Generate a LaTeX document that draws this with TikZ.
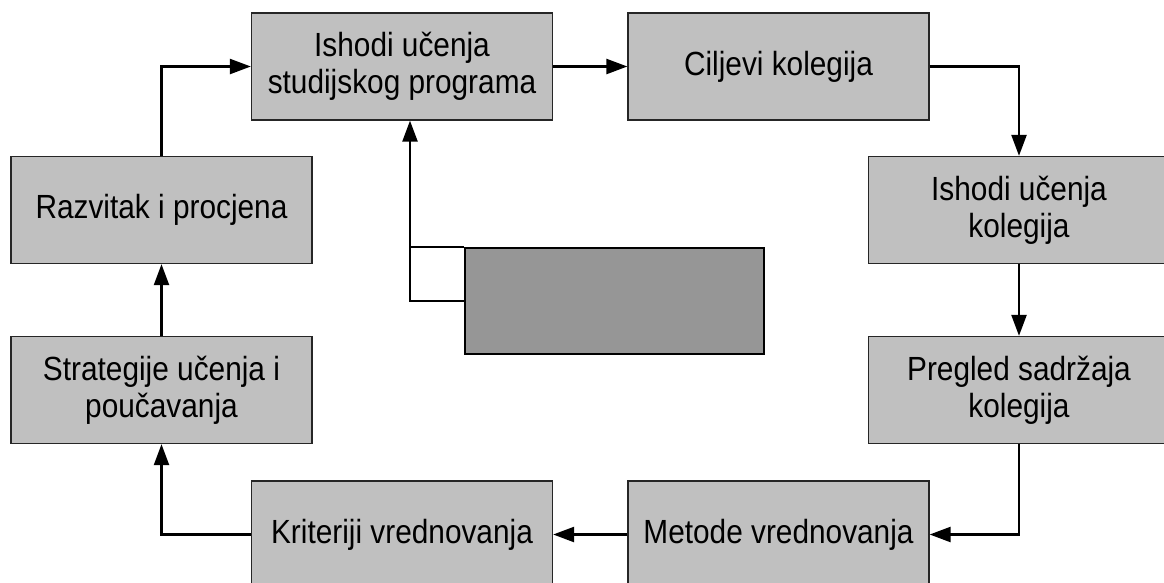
\documentclass[tikz,border=0pt]{standalone}
\usepackage{fontspec}
\setmainfont{Liberation Sans}[FakeStretch=0.89]
\usetikzlibrary{arrows.meta,positioning,calc}
\definecolor{boxgray}{RGB}{192,192,192}
\definecolor{panelgray}{RGB}{150,150,150}

\begin{document}
\begin{tikzpicture}[x=1pt, y=-1pt, box/.style={draw=black!85, line width=1.3pt, fill=boxgray, minimum width=301pt, minimum height=107pt, inner sep=0pt, align=center, font=\fontsize{33.5}{37}\selectfont}, link/.style={line width=2.4pt}, >={Triangle[length=21pt,width=15pt]}]
\useasboundingbox (0,0) rectangle (1164,582);
\clip (0,0) rectangle (1164,582);
\node[box] (isp)   at (402,66.5)   {Ishodi učenja\\studijskog programa};
\node[box] (cilj)  at (778.5,66.5) {Ciljevi kolegija};
\node[box] (ik)    at (1019,210)   {Ishodi učenja\\kolegija};
\node[box] (preg)  at (1019,390)   {Pregled sadržaja\\kolegija};
\node[box] (met)   at (778.5,534.5) {Metode vrednovanja};
\node[box] (krit)  at (402,534.5)  {Kriteriji vrednovanja};
\node[box] (strat) at (161.5,390)  {Strategije učenja i\\poučavanja};
\node[box] (razv)  at (161.5,210)  {Razvitak i procjena};
\node[draw, line width=2.4pt, fill=panelgray, minimum width=299pt, minimum height=106pt] (panel) at (614.5,301) {};
\coordinate (up) at ($(isp.south)+(8,0)$);
\draw[link,->] (razv.north) |- (isp.west);
\draw[link,->] (isp) -- (cilj);
\draw[link,->] (cilj.east) -| (ik.north);
\draw[link,->] (ik) -- (preg);
\draw[link,->] (preg.south) |- (met.east);
\draw[link,->] (met) -- (krit);
\draw[link,->] (krit.west) -| (strat.south);
\draw[link,->] (strat) -- (razv);
\draw[link,->] (panel.west) -| (up);
\draw[link] (up |- panel.north west) -- (panel.north west);
\end{tikzpicture}
\end{document}
